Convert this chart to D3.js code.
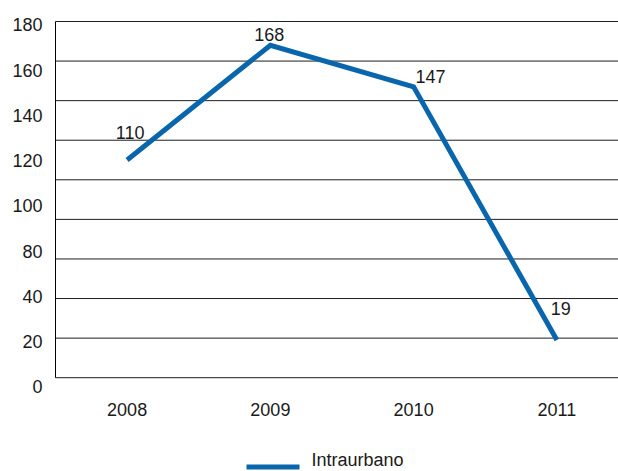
<!DOCTYPE html>
<html>
<head>
<meta charset="utf-8">
<script src="https://cdn.jsdelivr.net/npm/d3@7"></script>
<style>
  html, body { margin: 0; padding: 0; background: #fff; }
  svg { display: block; }
  text { font-family: "Liberation Sans", Arial, sans-serif; font-size: 18px; fill: #1a1a1a; }
</style>
</head>
<body>
<svg id="chart" width="618" height="471"></svg>
<script>
// Trips per year (series "Intraurbano")
const years = ["2008", "2009", "2010", "2011"];
const intraurbano = [110, 168, 147, 19];
const seriesName = "Intraurbano";
// Labels printed along the value axis
const yTickLabels = ["180", "160", "140", "120", "100", "80", "40", "20", "0"];
const gridValues = [0, 20, 40, 60, 80, 100, 120, 140, 160, 180];

// Layout
const plot = { left: 55.5, right: 628.5, top: 21.5, bottom: 377.7 };
const labelOffsets = [[3, -27], [-1, -11], [17, -10], [4, -31]];
const lineColor = "#0a66ac";

const svg = d3.select("#chart");

const x = d3.scaleBand().domain(years).range([plot.left, plot.right]);
const y = d3.scaleLinear().domain([0, 180]).range([plot.bottom, plot.top]);
const yLabelPos = d3.scalePoint().domain(yTickLabels).range([25, 387]);

// horizontal gridlines
svg.append("g")
  .selectAll("line")
  .data(gridValues)
  .join("line")
  .attr("x1", plot.left).attr("x2", plot.right)
  .attr("y1", d => y(d)).attr("y2", d => y(d))
  .attr("stroke", "#1e1e1e")
  .attr("stroke-width", 1);

// vertical axis line
svg.append("line")
  .attr("x1", plot.left).attr("x2", plot.left)
  .attr("y1", y(180)).attr("y2", y(0))
  .attr("stroke", "#000").attr("stroke-width", 1);

// value axis labels
svg.append("g")
  .selectAll("text")
  .data(yTickLabels)
  .join("text")
  .attr("x", 42.5)
  .attr("y", d => yLabelPos(d))
  .attr("dy", "0.35em")
  .attr("text-anchor", "end")
  .text(d => d);

// category labels
svg.append("g")
  .selectAll("text")
  .data(years)
  .join("text")
  .attr("x", d => x(d) + x.bandwidth() / 2)
  .attr("y", 409.5)
  .attr("dy", "0.35em")
  .attr("text-anchor", "middle")
  .text(d => d);

// series line
const pts = years.map((yr, i) => [x(yr) + x.bandwidth() / 2, y(intraurbano[i])]);
svg.append("path")
  .attr("d", d3.line()(pts))
  .attr("fill", "none")
  .attr("stroke", lineColor)
  .attr("stroke-width", 5)
  .attr("stroke-linejoin", "miter");

// value labels
svg.append("g")
  .selectAll("text")
  .data(intraurbano)
  .join("text")
  .attr("x", (d, i) => pts[i][0] + labelOffsets[i][0])
  .attr("y", (d, i) => pts[i][1] + labelOffsets[i][1])
  .attr("dy", "0.35em")
  .attr("text-anchor", "middle")
  .text(d => d);

// legend
const legend = svg.append("g");
legend.append("line")
  .attr("x1", 246.5).attr("x2", 299.5)
  .attr("y1", 467).attr("y2", 467)
  .attr("stroke", lineColor).attr("stroke-width", 5);
legend.append("text")
  .attr("x", 311.5).attr("y", 466)
  .text(seriesName);
</script>
</body>
</html>
